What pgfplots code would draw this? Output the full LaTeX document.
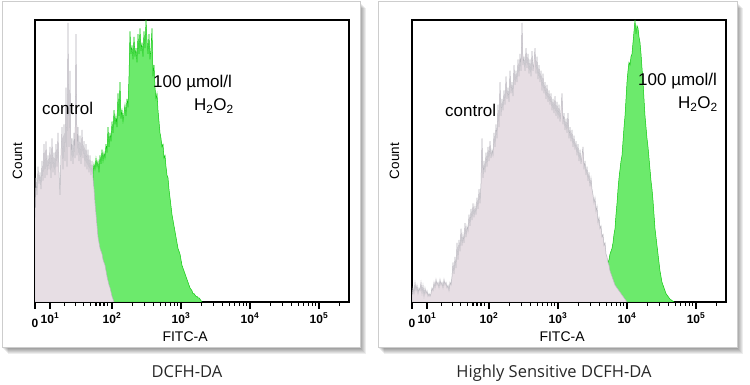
\documentclass[border=0pt]{standalone}
\usepackage{fontspec}
\setmainfont{Liberation Sans}
\newfontfamily\capfont{Open Sans}
\newfontfamily\tickfont{Liberation Sans Bold}
\usepackage{pgfplots}
\pgfplotsset{compat=1.18}
\usepackage{pgfplotstable}

\definecolor{ctrlfill}{RGB}{231,222,228}
\definecolor{ctrlline}{RGB}{185,183,190}
\definecolor{gfill}{RGB}{108,234,108}
\definecolor{gline}{RGB}{16,200,16}
\definecolor{framegray}{RGB}{205,205,205}
\definecolor{captext}{RGB}{40,40,40}

\newcommand{\tl}[1]{{\tickfont\fontsize{12bp}{12bp}\selectfont #1}}
\newcommand{\majorticks}{0,15,77,146,215,284}
\newcommand{\minorticks}{29.5,40.5,48.5,55.5,61,65,69,72.5,97.8,109.9,118.5,125.2,130.7,135.3,139.3,142.8,166.8,178.9,187.5,194.2,199.7,204.3,208.3,211.8,235.8,247.9,256.5,263.2,268.7,273.3,277.3,280.8,304.8}

\pgfplotstableread[header=false,row sep=\\]{
30\\44\\38\\48\\42\\46\\40\\50\\43\\56\\44\\57\\45\\52\\47\\55\\44\\58\\46\\53\\
45\\56\\48\\60\\46\\38\\52\\62\\47\\63\\50\\76\\48\\99\\55\\82\\50\\58\\49\\60\\
51\\95\\52\\62\\50\\59\\49\\61\\51\\57\\48\\56\\47\\54\\46\\52\\45\\50\\
44\\40\\35\\31\\27\\23\\21\\19\\18\\17\\15\\14\\13\\11\\9\\7.5\\6\\5\\3.5\\2\\1\\0\\
}\leftctrl
\pgfplotstableread[header=false,row sep=\\]{
46\\49\\47\\51\\48\\50\\46\\52\\49\\54\\50\\53\\51\\56\\53\\62\\55\\60\\57\\64\\
60\\68\\63\\66\\62\\74\\66\\78\\65\\68\\64\\67\\70\\66\\72\\69\\80\\96\\88\\91\\
86\\94\\87\\90\\85\\95\\88\\97\\89\\92\\87\\96\\90\\100\\93\\88\\95\\86\\90\\97\\
80\\84\\76\\72\\74\\68\\64\\60\\58\\55\\56\\51\\52\\48\\45\\44\\40\\37\\34\\31\\
29\\27\\25\\23\\21\\19\\18\\17\\15\\13\\12\\11\\10\\9\\8\\7\\6\\5\\4.5\\4\\
3\\3\\2.5\\2\\2\\1.5\\1.5\\1\\0.5\\0\\
}\leftgreen
\pgfplotstableread[header=false,row sep=\\]{
2\\5\\3\\7\\4\\6\\3\\5\\4\\7\\3\\6\\2\\5\\3\\4\\2\\3\\2\\3\\
5\\4\\7\\5\\8\\6\\7\\5\\8\\6\\7\\5\\8\\6\\7\\5\\6\\4\\7\\6\\
9\\14\\10\\16\\12\\21\\15\\22\\18\\26\\20\\24\\21\\28\\23\\27\\25\\31\\27\\33\\
29\\35\\30\\34\\31\\37\\33\\40\\35\\42\\58\\44\\50\\46\\53\\48\\55\\50\\57\\51\\
54\\52\\60\\55\\63\\58\\70\\62\\78\\66\\72\\68\\75\\70\\80\\72\\76\\71\\82\\74\\
78\\73\\84\\77\\82\\78\\86\\80\\88\\82\\99\\84\\87\\82\\90\\83\\88\\81\\86\\80\\
89\\82\\85\\90\\81\\87\\79\\84\\78\\82\\75\\81\\74\\78\\72\\77\\71\\75\\70\\74\\
68\\72\\67\\73\\66\\71\\65\\70\\64\\68\\74\\63\\67\\61\\65\\60\\67\\58\\62\\57\\
61\\55\\59\\54\\57\\52\\56\\50\\54\\49\\52\\55\\47\\50\\45\\48\\43\\46\\41\\44\\
40\\38\\35\\37\\32\\34\\28\\30\\26\\27\\23\\24\\20\\21\\17\\16\\14\\13\\11\\10\\
9\\8\\7\\6\\5.5\\5\\4.5\\4\\3.5\\3\\2.5\\2\\1.5\\1\\0.5\\0\\
}\rightctrl
\pgfplotstableread[header=false,row sep=\\]{
3\\4\\5\\6\\8\\9\\11\\12\\14\\15\\17\\18\\19\\21\\24\\26\\31\\35\\40\\44\\
47\\50\\52\\57\\62\\66\\72\\78\\82\\85\\84\\87\\88\\92\\96\\100\\95\\98\\97\\94\\
92\\88\\83\\78\\72\\66\\62\\58\\55\\51\\47\\43\\40\\36\\31\\26\\23\\20\\17\\14\\
11\\9\\7\\6\\5\\4\\3\\2.5\\2\\1.5\\1\\0.8\\0.5\\0.3\\0\\
}\rightgreen

\pgfplotsset{flowaxis/.style={
  scale only axis, width=314bp, height=282bp,
  anchor=south west,
  xmin=0, xmax=314, ymin=0, ymax=100,
  axis line style={line width=1.6bp, black},
  ytick=\empty,
  xtick={0,15,77,146,215,284},
  xticklabels={\tl{\raisebox{-4bp}{0}},\tl{10\textsuperscript{1}},\tl{10\textsuperscript{2}},\tl{10\textsuperscript{3}},\tl{10\textsuperscript{4}},\tl{10\textsuperscript{5}}},
  xtick pos=bottom,
  tick style={draw=none},
  xticklabel style={anchor=base, inner sep=0pt, yshift=-21bp},
  xlabel={FITC-A},
  xlabel style={at={(axis description cs:0.478,-0.1418)}, anchor=base, inner sep=0pt, font=\fontsize{14bp}{14bp}\selectfont},
  ylabel={Count},
  ylabel style={at={(axis description cs:-0.0414,0.5)}, anchor=base, inner sep=0pt, font=\fontsize{13.5bp}{13.5bp}\selectfont},
  no markers,
}}

\begin{document}
\begin{tikzpicture}
\useasboundingbox (0,0) rectangle (750bp,385bp);
\fill[white] (0,0) rectangle (750bp,385bp);
\foreach \k in {1,...,6} {
  \fill[black,opacity=0.07] ({2bp+\k bp},{37bp-\k bp}) rectangle ({360bp+\k bp},{383bp-\k bp});
  \fill[black,opacity=0.07] ({378bp+\k bp},{37bp-\k bp}) rectangle ({737bp+\k bp},{383bp-\k bp});
}
\filldraw[fill=white, draw=framegray, line width=1bp] (2bp,37bp) rectangle (360bp,383bp);
\filldraw[fill=white, draw=framegray, line width=1bp] (378bp,37bp) rectangle (737bp,383bp);

\begin{axis}[flowaxis, at={(35bp,83bp)}]
\addplot[fill=gfill, draw=gline, line width=0.5bp] table[x expr=\coordindex+58, y index=0] {\leftgreen} \closedcycle;
\addplot[fill=ctrlfill, draw=ctrlline, line width=0.5bp] table[x expr=\coordindex, y index=0] {\leftctrl} \closedcycle;
\end{axis}

\begin{axis}[flowaxis, at={(412bp,83bp)}]
\addplot[fill=gfill, draw=gline, line width=0.5bp] table[x expr=\coordindex+188, y index=0] {\rightgreen} \closedcycle;
\addplot[fill=ctrlfill, draw=ctrlline, line width=0.5bp] table[x expr=\coordindex, y index=0] {\rightctrl} \closedcycle;
\end{axis}

% tick marks (1 axis unit = 1bp)
\foreach \ox in {35,412} {
  \foreach \t in \majorticks {
    \draw[black, line width=1.2bp] ({\ox bp+\t bp},83bp) -- ++(0,-7bp);
  }
  \foreach \t in \minorticks {
    \draw[black, line width=1.1bp] ({\ox bp+\t bp},83bp) -- ++(0,-4.5bp);
  }
}

\begin{scope}[every node/.style={inner sep=0pt, font=\fontsize{17bp}{17bp}\selectfont}]
\node[anchor=base west] at (42bp,270bp) {control};
\node[anchor=base west] at (153bp,297bp) {100 µmol/l};
\node[anchor=base east] at (234bp,274bp) {H\textsubscript{2}O\textsubscript{2}};
\node[anchor=base west] at (445bp,268bp) {control};
\node[anchor=base west] at (638bp,299bp) {100 µmol/l};
\node[anchor=base east] at (718bp,276bp) {H\textsubscript{2}O\textsubscript{2}};
\end{scope}
\node[anchor=base, inner sep=0pt, text=captext, font=\capfont\fontsize{16.5bp}{16.5bp}\selectfont] at (187bp,8bp) {DCFH-DA};
\node[anchor=base, inner sep=0pt, text=captext, font=\capfont\fontsize{16.5bp}{16.5bp}\selectfont] at (554bp,8bp) {Highly Sensitive DCFH-DA};
\end{tikzpicture}
\end{document}
